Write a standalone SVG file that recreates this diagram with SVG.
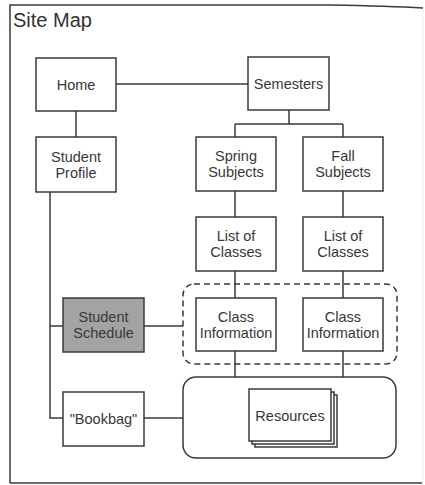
<svg xmlns="http://www.w3.org/2000/svg" width="425" height="485" viewBox="0 0 425 485">
  <style>
    .box { fill: #ffffff; stroke: #3a3a3a; stroke-width: 1.5; }
    .shade { fill: #a3a3a3; stroke: #3a3a3a; stroke-width: 1.5; }
    .wire { fill: none; stroke: #3a3a3a; stroke-width: 1.5; }
    .group { fill: none; stroke: #3a3a3a; stroke-width: 1.5; }
    .dash { stroke-dasharray: 6 4; }
    .lbl { font-family: "Liberation Sans", Arial, sans-serif; font-size: 14.5px; fill: #383838; text-anchor: middle; }
    .title { font-family: "Liberation Sans", Arial, sans-serif; font-size: 20px; fill: #333333; }
  </style>

  <!-- page frame -->
  <g id="frame">
    <path d="M10,483 L10,5 L330,5 Q390,6 423,8" class="wire"/>
    <line x1="10" y1="483" x2="422" y2="483" class="wire"/>
    <line x1="423" y1="10" x2="423" y2="482" stroke="#ececec" stroke-width="1"/>
    <text x="13" y="27" class="title">Site Map</text>
  </g>

  <!-- grouping outlines -->
  <g id="class-group">
    <rect x="183" y="284" width="214" height="80" rx="11" class="group dash"/>
  </g>
  <g id="resource-group">
    <rect x="183" y="377" width="213" height="81" rx="13" class="group"/>
  </g>

  <!-- connectors -->
  <g id="connectors">
    <line x1="116" y1="84" x2="248" y2="84" class="wire"/>
    <line x1="76" y1="111" x2="76" y2="137" class="wire"/>
    <path d="M289,110 V124 M235,124 H343 M235,124 V137 M343,124 V137" class="wire"/>
    <path d="M235,191 V217 M343,191 V217" class="wire"/>
    <path d="M235,271 V298 M343,271 V298" class="wire"/>
    <path d="M235,351 V377 M343,351 V377" class="wire"/>
    <path d="M50,192 V418 H63 M50,326 H63" class="wire"/>
    <line x1="144" y1="326" x2="183" y2="326" class="wire"/>
    <line x1="144" y1="418" x2="183" y2="418" class="wire"/>
  </g>

  <!-- nodes -->
  <g id="home">
    <rect x="36" y="58" width="80" height="53" class="box"/>
    <text x="76" y="90" class="lbl">Home</text>
  </g>
  <g id="student-profile">
    <rect x="36" y="137" width="80" height="55" class="box"/>
    <text x="76" y="162" class="lbl">Student</text>
    <text x="76" y="178" class="lbl">Profile</text>
  </g>
  <g id="semesters">
    <rect x="248" y="57" width="81" height="53" class="box"/>
    <text x="288.5" y="89" class="lbl">Semesters</text>
  </g>
  <g id="spring-subjects">
    <rect x="196" y="137" width="80" height="54" class="box"/>
    <text x="236" y="161" class="lbl">Spring</text>
    <text x="236" y="177" class="lbl">Subjects</text>
  </g>
  <g id="fall-subjects">
    <rect x="303" y="137" width="80" height="54" class="box"/>
    <text x="343" y="161" class="lbl">Fall</text>
    <text x="343" y="177" class="lbl">Subjects</text>
  </g>
  <g id="spring-classes">
    <rect x="196" y="217" width="80" height="54" class="box"/>
    <text x="236" y="241" class="lbl">List of</text>
    <text x="236" y="257" class="lbl">Classes</text>
  </g>
  <g id="fall-classes">
    <rect x="303" y="217" width="80" height="54" class="box"/>
    <text x="343" y="241" class="lbl">List of</text>
    <text x="343" y="257" class="lbl">Classes</text>
  </g>
  <g id="spring-class-info">
    <rect x="196" y="298" width="80" height="53" class="box"/>
    <text x="236" y="322" class="lbl">Class</text>
    <text x="236" y="338" class="lbl">Information</text>
  </g>
  <g id="fall-class-info">
    <rect x="303" y="298" width="80" height="53" class="box"/>
    <text x="343" y="322" class="lbl">Class</text>
    <text x="343" y="338" class="lbl">Information</text>
  </g>
  <g id="student-schedule">
    <rect x="63" y="298" width="81" height="54" class="shade"/>
    <text x="103.5" y="322" class="lbl">Student</text>
    <text x="103.5" y="338" class="lbl">Schedule</text>
  </g>
  <g id="bookbag">
    <rect x="63" y="392" width="81" height="54" class="box"/>
    <text x="103.5" y="424" class="lbl">"Bookbag"</text>
  </g>
  <g id="resources">
    <rect x="255" y="395" width="82" height="52" class="box"/>
    <rect x="252" y="392" width="82" height="52" class="box"/>
    <rect x="249" y="389" width="82" height="52" class="box"/>
    <text x="290" y="421" class="lbl">Resources</text>
  </g>
</svg>
